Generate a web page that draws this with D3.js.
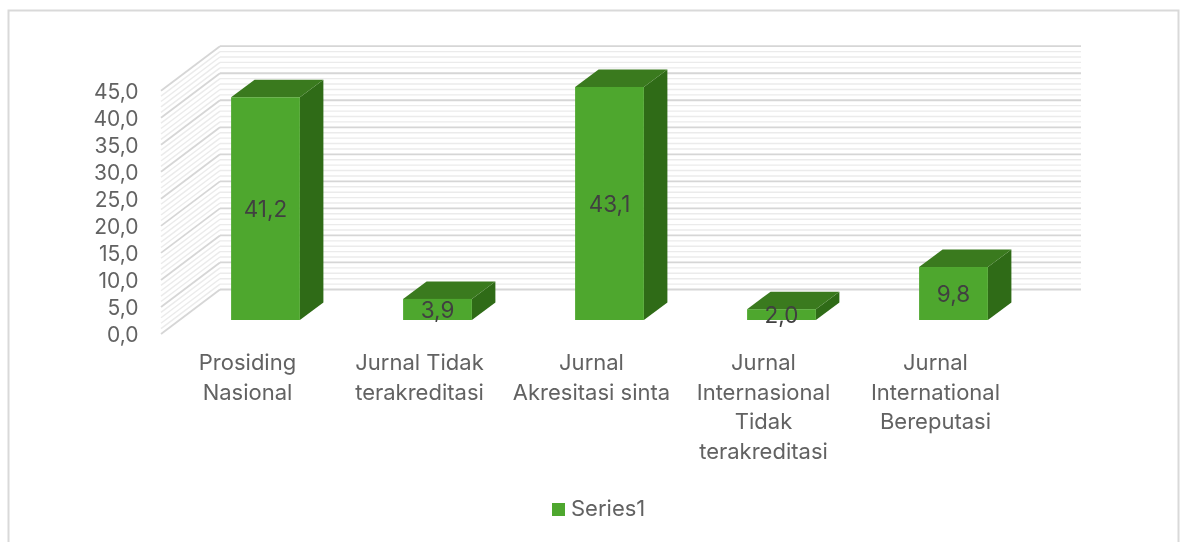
<!DOCTYPE html>
<html><head><meta charset="utf-8">
<script src="https://cdn.jsdelivr.net/npm/d3@7"></script>
<style>html,body{margin:0;padding:0;background:#fff}svg{display:block}text{font-family:Inter,"Noto Sans",sans-serif;fill:#626262}</style>
</head><body><svg id="c" width="1180" height="542"></svg>
<script>
const categories=[["Prosiding","Nasional"],["Jurnal Tidak","terakreditasi"],["Jurnal","Akresitasi sinta"],["Jurnal","Internasional","Tidak","terakreditasi"],["Jurnal","International","Bereputasi"]];
const values=[41.2,3.9,43.1,2.0,9.8];
const valueLabels=["41,2","3,9","43,1","2,0","9,8"];
const yTicks=[0,5,10,15,20,25,30,35,40,45];
const seriesName="Series1";

const svg=d3.select("#c");
const defs=svg.append("defs");
defs.append("filter").attr("id","soft").append("feGaussianBlur").attr("stdDeviation",0.45);

svg.append("rect").attr("x",8.5).attr("y",10.5).attr("width",1170).attr("height",540)
  .attr("fill","#fff").attr("stroke","#d9d9d9").attr("stroke-width",2);

const y=d3.scaleLinear().domain([0,45]).range([334,90.7]);
const depth={dx:59,dy:-44.5};
const x0=161,x1=220,xEnd=1081;
const idx=categories.map((_,i)=>i);
const x=d3.scaleBand().domain(idx).range([179.5,1039.5]).paddingInner(0.6).paddingOuter(0.3);
const k=y(0)-y(1);
const baseY=320;
const side={dx:23.5,dy:-17.5};

const grid=svg.append("g");
d3.range(0,45.01,1).forEach(v=>{
  const major=v%5===0;
  const c=major?"#d6d6d6":"#ebebeb";
  const w=major?1.8:1.4;
  grid.append("line").attr("x1",x0).attr("y1",y(v)).attr("x2",x1).attr("y2",y(v)+depth.dy).attr("stroke",c).attr("stroke-width",w);
  grid.append("line").attr("x1",x1).attr("y1",y(v)+depth.dy).attr("x2",xEnd).attr("y2",y(v)+depth.dy).attr("stroke",c).attr("stroke-width",w);
});

svg.append("g").attr("filter","url(#soft)").selectAll("text").data(yTicks).join("text")
  .attr("x",138.5).attr("y",d=>y(d)+2.5).attr("text-anchor","end").attr("dominant-baseline","middle")
  .attr("font-size",21).text(d=>d3.format(".1f")(d).replace(".",","));

const bars=svg.append("g").selectAll("g").data(values).join("g");
bars.each(function(v,i){
  const g=d3.select(this),l=x(i),w=x.bandwidth(),r=l+w,t=baseY-v*k;
  g.append("polygon").attr("fill","#2f6b17").attr("points",[[r,t],[r+side.dx,t+side.dy],[r+side.dx,baseY+side.dy],[r,baseY]].join(" "));
  g.append("polygon").attr("fill","#3a7a1e").attr("points",[[l,t],[l+side.dx,t+side.dy],[r+side.dx,t+side.dy],[r,t]].join(" "));
  g.append("rect").attr("x",l).attr("y",t).attr("width",w).attr("height",baseY-t).attr("fill","#4ea72e");
});

svg.append("g").attr("filter","url(#soft)").selectAll("text").data(values).join("text")
  .attr("x",(d,i)=>x(i)+x.bandwidth()/2).attr("y",d=>baseY-d*k/2+2).attr("text-anchor","middle").attr("dominant-baseline","middle")
  .attr("font-size",22.5).style("fill","#404040").text((d,i)=>valueLabels[i]);

const labels=svg.append("g").attr("filter","url(#soft)");
categories.forEach((lines,i)=>{
  const cx=x(i)+x.bandwidth()/2-18;
  lines.forEach((t,j)=>labels.append("text").attr("x",cx).attr("y",364+j*29.6).attr("text-anchor","middle")
    .attr("dominant-baseline","middle").attr("font-size",22).text(t));
});

svg.append("rect").attr("x",552).attr("y",503).attr("width",13).attr("height",13).attr("fill","#4ea72e");
svg.append("text").attr("filter","url(#soft)").attr("x",571).attr("y",510).attr("dominant-baseline","middle").attr("font-size",22).text(seriesName);
</script></body></html>
